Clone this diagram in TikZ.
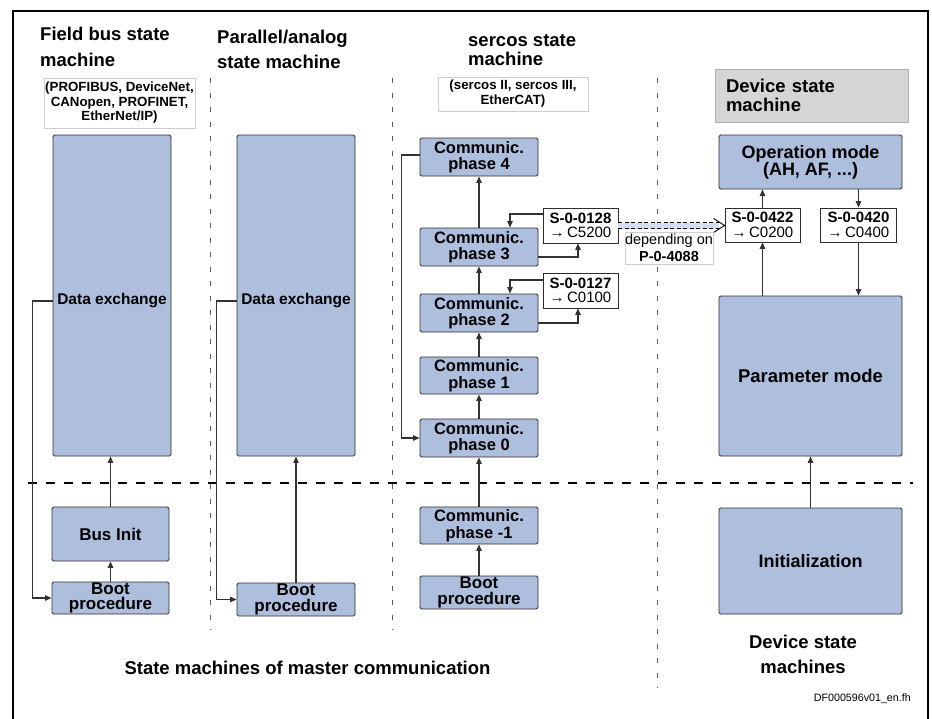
\documentclass[tikz,border=0pt]{standalone}
\usepackage{fontspec}
\setmainfont{Liberation Sans}
\usetikzlibrary{arrows.meta}

\definecolor{stfill}{RGB}{174,191,222}
\definecolor{stdraw}{RGB}{45,45,45}
\definecolor{conn}{RGB}{50,50,50}
\definecolor{headfill}{RGB}{214,214,214}
\definecolor{headdraw}{RGB}{175,175,175}
\definecolor{subdraw}{RGB}{205,205,205}
\definecolor{divider}{RGB}{90,90,90}
\definecolor{depfill}{RGB}{214,221,240}

\newcommand\fs[2]{\fontsize{#1}{#2}\selectfont}

\begin{document}
\begin{tikzpicture}[x=1pt,y=-1pt,
  state/.style={draw=stdraw, fill=stfill, line width=0.9pt, rounded corners=1.5pt,
    inner sep=0pt, align=center, font=\bfseries},
  bootbox/.style={state, minimum width=118pt, minimum height=33pt, font=\bfseries\fs{17}{15.5}},
  parbox/.style={draw=stdraw, fill=white, line width=0.8pt, inner sep=0pt, align=center,
    minimum width=75pt, minimum height=35pt, font=\fs{15}{14.5}},
  subbox/.style={draw=subdraw, fill=white, line width=0.5pt, inner sep=0pt, align=center, font=\bfseries},
  heading/.style={inner sep=0pt, align=left, font=\bfseries\fs{18.5}{26}},
  arr/.style={draw=conn, line width=1.2pt, -{Triangle[length=6.5pt,width=5.5pt]}},
  divline/.style={draw=divider, line width=0.8pt, dash pattern=on 5pt off 9.5pt},
  phaseline/.style={draw=black, line width=2pt, dash pattern=on 9pt off 9pt},
  deparrow/.style={draw=black, line width=0.9pt, dash pattern=on 4pt off 2.5pt}
]
\useasboundingbox (0,0) rectangle (932,718);

% outer frame, open at the bottom
\draw[line width=2.5pt, line join=miter] (13,722) -- (13,11) -- (928,11) -- (928,722);

% column dividers and the boot/run separator
\draw[divline] (210,78) -- (210,630);
\draw[divline] (392,78) -- (392,630);
\draw[divline] (657,78) -- (657,688);
\draw[phaseline] (28,483) -- (913,483);

% ---------- field bus column ----------
\node[heading, anchor=north west] (fbhead) at (40,27) {Field bus state\\machine};
\node[subbox, minimum width=151pt, minimum height=50pt, font=\bfseries\fs{13.3}{14.5}]
  (fbsub) at (119.5,103) {(PROFIBUS, DeviceNet,\\CANopen, PROFINET,\\EtherNet/IP)};
\node[state, minimum width=118pt, minimum height=321pt] (fbde) at (112,295.5) {};
\node[font=\bfseries\fs{15.5}{16}, inner sep=0pt] (fbdet) at (112,301) {Data exchange};
\node[state, minimum width=117pt, minimum height=54pt, font=\bfseries\fs{17}{17}] (fbbus) at (110.5,534) {Bus Init};
\node[bootbox, minimum width=117pt, minimum height=32pt] (fbboot) at (110.5,598) {Boot\\procedure};

\draw[arr] ([yshift=-5.5pt]fbde.west) -- ++(-20,0) |- (fbboot.west);
\draw[arr] (fbbus.north) -- (fbbus.north |- fbde.south);
\draw[arr] (fbboot.north) -- (fbbus.south);

% ---------- parallel / analog column ----------
\node[heading, anchor=north west, font=\bfseries\fs{18.5}{25}] (pahead) at (217,30) {Parallel/analog\\state machine};
\node[state, minimum width=118pt, minimum height=321pt] (pade) at (296,295.5) {};
\node[font=\bfseries\fs{15.5}{16}, inner sep=0pt] (padet) at (296,301) {Data exchange};
\node[bootbox] (paboot) at (296,599.5) {Boot\\procedure};

\draw[arr] ([yshift=-5.5pt]pade.west) -- ++(-20,0) |- (paboot.west);
\draw[arr] (paboot.north) -- (pade.south);

% ---------- sercos column ----------
\node[heading, anchor=north west, font=\bfseries\fs{18.5}{19}] (sehead) at (468,34) {sercos state\\machine};
\node[subbox, minimum width=150pt, minimum height=34pt, font=\bfseries\fs{13.3}{15}]
  (sesub) at (513,94) {(sercos II, sercos III,\\EtherCAT)};

\tikzset{phase/.style={state, minimum width=118pt, minimum height=38pt, font=\bfseries\fs{16.5}{16.5}}}
\node[phase] (p4) at (479,157) {Communic.\\phase 4};
\node[phase] (p3) at (479,247) {Communic.\\phase 3};
\node[phase] (p2) at (479,313) {Communic.\\phase 2};
\node[phase, minimum height=37pt] (p1) at (479,375.5) {Communic.\\phase 1};
\node[phase] (p0) at (479,438) {Communic.\\phase 0};
\node[phase, minimum height=37pt] (pm1) at (479,525.5) {Communic.\\phase -1};
\node[bootbox] (seboot) at (479,592.5) {Boot\\procedure};

\draw[arr] (seboot.north) -- (pm1.south);
\draw[arr] (pm1.north) -- (p0.south);
\draw[arr] (p0.north) -- (p1.south);
\draw[arr] (p1.north) -- (p2.south);
\draw[arr] (p2.north) -- (p3.south);
\draw[arr] (p3.north) -- (p4.south);
\draw[arr] ([yshift=2pt]p4.west) -- ++(-18,0) |- (p0.west);

\node[parbox] (s128) at (580.5,225.5) {\textbf{S-0-0128}\\→\,C5200};
\node[parbox] (s127) at (580.5,290.5) {\textbf{S-0-0127}\\→\,C0100};

\draw[arr] ([yshift=11.5pt]s128.west) -| ([xshift=31pt]p3.north);
\draw[arr] ([yshift=-10pt]p3.east) -| ([xshift=-2.5pt]s128.south);
\draw[arr] ([yshift=10.5pt]s127.west) -| ([xshift=31pt]p2.north);
\draw[arr] ([yshift=-10pt]p2.east) -| ([xshift=-2.5pt]s127.south);

% ---------- device column ----------
\node[draw=headdraw, fill=headfill, line width=0.7pt, minimum width=193pt, minimum height=53pt,
  inner xsep=11pt, inner ysep=0pt, text width=171pt, align=left, font=\bfseries\fs{18.5}{18.5}]
  (devhead) at (811.5,95.5) {Device state\\machine};
\node[state, minimum width=183pt, minimum height=54pt, font=\bfseries\fs{18}{17}] (opm) at (810.5,162)
  {Operation mode\\(AH, AF, ...)};
\node[parbox, minimum height=34pt] (s422) at (762.5,225) {\textbf{S-0-0422}\\→\,C0200};
\node[parbox, minimum width=76pt, minimum height=34pt] (s420) at (858.5,225) {\textbf{S-0-0420}\\→\,C0400};
\node[state, minimum width=183pt, minimum height=160pt, font=\bfseries\fs{18.5}{19}] (pm) at (810.5,376) {Parameter mode};
\node[state, minimum width=183pt, minimum height=106pt, font=\bfseries\fs{18}{19}] (init) at (810.5,561) {Initialization};

\draw[arr] (s422.north) -- (s422.north |- opm.south);
\draw[arr] (s420.north |- opm.south) -- (s420.north);
\draw[arr] (s422.south |- pm.north) -- (s422.south);
\draw[arr] (s420.south) -- (s420.south |- pm.north);
\draw[arr] (init.north) -- (pm.south);

% ---------- dependency link between the state machines ----------
\coordinate (da) at (s128.east);
\coordinate (db) at (da -| s422.west);
\fill[depfill] ([yshift=3pt]da) rectangle ([yshift=-3pt,xshift=-6pt]db);
\draw[deparrow] ([yshift=3pt]da) -- ([yshift=3pt,xshift=-6pt]db);
\draw[deparrow] ([yshift=-3pt]da) -- ([yshift=-3pt,xshift=-6pt]db);
\draw[black, line width=0.9pt] ([xshift=-11pt,yshift=7pt]db) -- (db) -- ([xshift=-11pt,yshift=-7pt]db);
\node[draw=subdraw, fill=white, line width=0.5pt, inner sep=0pt, minimum width=88pt, minimum height=32pt,
  align=center, font=\fs{14.5}{16.5}] (dep) at (669,248) {depending on\\\textbf{P-0-4088}};

% ---------- captions ----------
\node[font=\bfseries\fs{18.5}{19}, inner sep=0pt] (mastercap) at (307.5,668) {State machines of master communication};
\node[font=\bfseries\fs{18.5}{25}, align=center, inner sep=0pt] (devcap) at (803,654) {Device state\\machines};
\node[font=\fs{10.7}{12}, inner sep=0pt, anchor=east] (figid) at (911,699) {DF000596v01\_en.fh};
\end{tikzpicture}
\end{document}
